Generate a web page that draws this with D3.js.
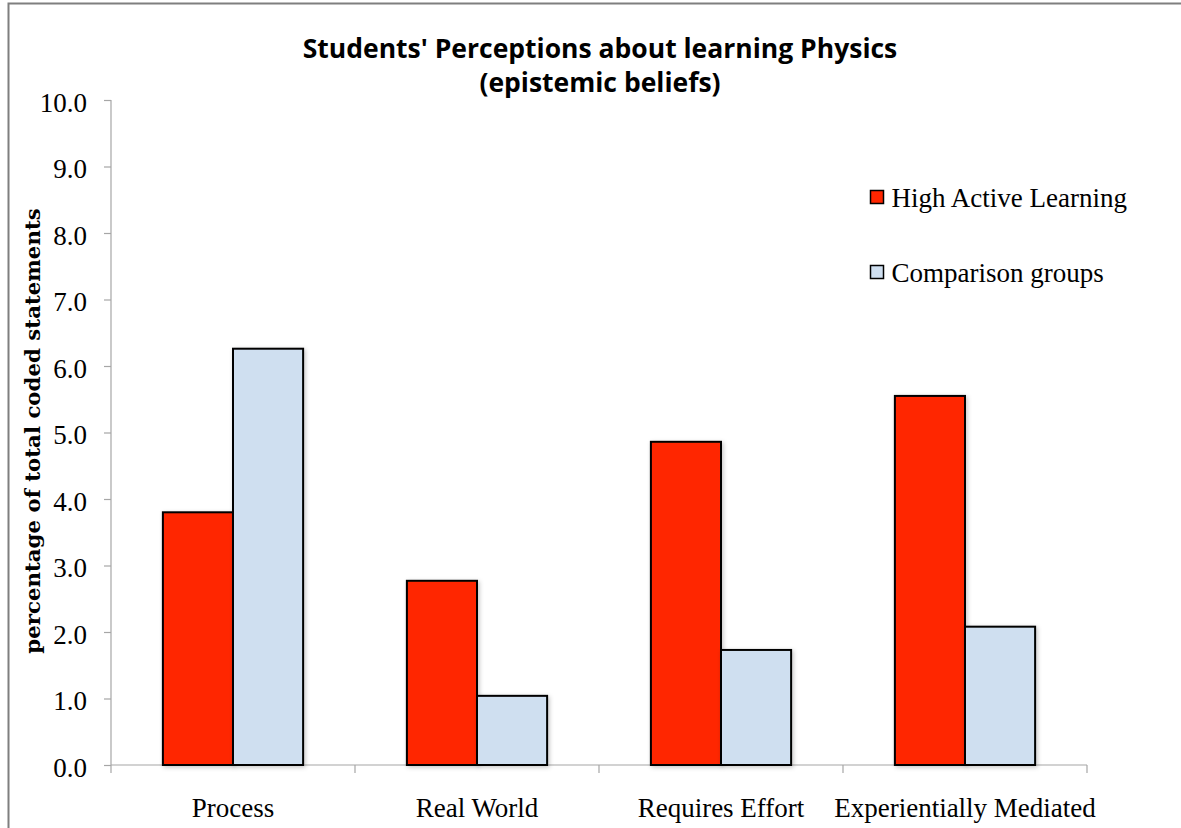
<!doctype html>
<html>
<head>
  <meta charset="utf-8">
  <title>Students' Perceptions about learning Physics</title>
  <style>
    html, body { margin: 0; padding: 0; background: #fff; }
    svg { display: block; }
    .serif { font-family: "Liberation Serif", "DejaVu Serif", serif; }
  </style>
</head>
<body>
  <div id="chart"></div>

  <script src="https://d3js.org/d3.v7.min.js"></script>

  <script>
    // data
    var categories = ['Process', 'Real World', 'Requires Effort', 'Experientially Mediated'];
    var seriesNames = ['High Active Learning', 'Comparison groups'];
    var highActive = [3.80, 2.77, 4.86, 5.55];
    var comparison = [6.26, 1.04, 1.73, 2.08];
    var yTicks = [0, 1, 2, 3, 4, 5, 6, 7, 8, 9, 10];
    var colors = ['#ff2600', '#cfdff0'];

    var W = 1181, H = 828;
    var mLeft = 111, mRight = 1087, mTop = 100, mBottom = 765;

    var svg = d3.select('#chart').append('svg')
      .attr('width', W)
      .attr('height', H);

    // outer frame (only left and top visible in the crop)
    svg.append('rect')
      .attr('x', 8.5).attr('y', 3.5)
      .attr('width', W + 20).attr('height', H + 20)
      .attr('fill', '#fff')
      .attr('stroke', '#7f7f7f')
      .attr('stroke-width', 2);

    var defs = svg.append('defs');
    var f = defs.append('filter').attr('id', 'shadow')
      .attr('x', '-10%').attr('y', '-10%').attr('width', '130%').attr('height', '130%');
    f.append('feDropShadow')
      .attr('dx', 1.5).attr('dy', 1.5)
      .attr('stdDeviation', 2)
      .attr('flood-color', '#000')
      .attr('flood-opacity', 0.22);

    var x0 = d3.scaleBand().domain(categories).range([mLeft, mRight]).paddingInner(0).paddingOuter(0);
    var x1 = d3.scaleBand().domain(seriesNames).range([0, x0.bandwidth()]).paddingInner(0).paddingOuter(0.74);
    var y = d3.scaleLinear().domain([0, 10]).range([mBottom, mTop]);

    // title
    var title = svg.append('text')
      .attr('text-anchor', 'middle')
      .style('font-family', '"Open Sans", Lato, sans-serif')
      .style('font-weight', 'bold')
      .style('font-size', '26.5px');
    title.append('tspan').attr('x', 600).attr('y', 58).text("Students' Perceptions about learning Physics");
    title.append('tspan').attr('x', 600).attr('y', 92).text('(epistemic beliefs)');

    // y axis
    var yAxis = svg.append('g')
      .attr('transform', 'translate(' + mLeft + ',0)')
      .call(d3.axisLeft(y).tickValues(yTicks).tickFormat(d3.format('.1f')).tickSize(7).tickPadding(17));
    yAxis.selectAll('path, line').attr('stroke', '#a6a6a6').attr('stroke-width', 1.2);
    yAxis.select('.domain').attr('d', 'M0,' + mTop + 'V' + mBottom);
    yAxis.selectAll('text')
      .attr('class', 'serif')
      .attr('fill', '#000')
      .style('font-size', '27px')
      .attr('dy', '0.42em');

    // x axis
    var xAxis = svg.append('g')
      .attr('transform', 'translate(0,' + mBottom + ')');
    xAxis.append('line')
      .attr('x1', mLeft).attr('x2', mRight)
      .attr('stroke', '#a6a6a6').attr('stroke-width', 1.2);
    xAxis.selectAll('.tk')
      .data(categories.concat(['end']))
      .enter().append('line')
      .attr('class', 'tk')
      .attr('x1', (d) => d === 'end' ? mRight : x0(d))
      .attr('x2', (d) => d === 'end' ? mRight : x0(d))
      .attr('y1', 0).attr('y2', 8)
      .attr('stroke', '#a6a6a6').attr('stroke-width', 1.2);
    xAxis.selectAll('.lbl')
      .data(categories)
      .enter().append('text')
      .attr('class', 'serif lbl')
      .attr('x', (d) => x0(d) + x0.bandwidth() / 2)
      .attr('y', 52)
      .attr('text-anchor', 'middle')
      .style('font-size', '27px')
      .text((d) => d);

    // y axis title
    svg.append('text')
      .attr('transform', 'translate(40,431) rotate(-90)')
      .attr('text-anchor', 'middle')
      .style('font-family', '"DejaVu Serif", serif')
      .style('font-size', '21.3px')
      .style('font-weight', 'bold')
      .text('percentage of total coded statements');

    // bars
    var rows = categories.map((c, i) => ({ cat: c, vals: [highActive[i], comparison[i]] }));
    var groups = svg.selectAll('.grp')
      .data(rows)
      .enter().append('g')
      .attr('class', 'grp')
      .attr('transform', (d) => 'translate(' + x0(d.cat) + ',0)');
    groups.selectAll('rect')
      .data((d) => d.vals.map((v, j) => ({ name: seriesNames[j], v: v, j: j })))
      .enter().append('rect')
      .attr('x', (d) => x1(d.name))
      .attr('y', (d) => y(d.v))
      .attr('width', x1.bandwidth())
      .attr('height', (d) => y(0) - y(d.v))
      .attr('fill', (d) => colors[d.j])
      .attr('stroke', '#000')
      .attr('stroke-width', 2)
      .attr('filter', 'url(#shadow)');

    // legend
    var legend = svg.selectAll('.leg')
      .data(seriesNames)
      .enter().append('g')
      .attr('class', 'leg')
      .attr('transform', (d, i) => 'translate(870.5,' + (190.5 + i * 75) + ')');
    legend.append('rect')
      .attr('width', 13).attr('height', 13)
      .attr('fill', (d, i) => colors[i])
      .attr('stroke', '#000')
      .attr('stroke-width', 1.5);
    legend.append('text')
      .attr('class', 'serif')
      .attr('x', 21).attr('y', 16)
      .style('font-size', '27px')
      .text((d) => d);
  </script>
</body>
</html>
